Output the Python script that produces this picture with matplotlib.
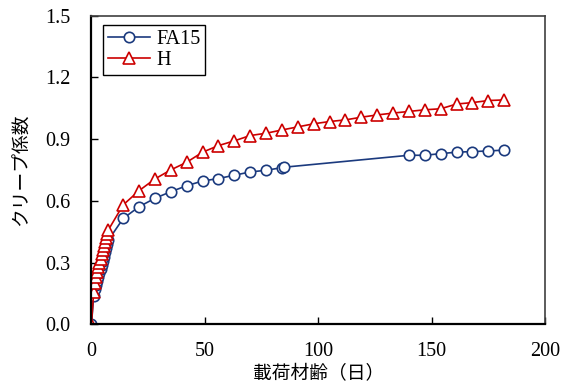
import matplotlib.pyplot as plt

# loading age (days) and creep coefficient
fa15_days = [0, 1, 1.5, 2, 2.5, 3, 3.5, 4, 4.5, 5, 5.5, 6, 6.5, 7, 7.5,
             14, 21, 28, 35, 42, 49, 56, 63, 70, 77, 84, 85,
             140, 147, 154, 161, 168, 175, 182]
fa15_cc = [0.0, 0.14, 0.17, 0.19, 0.21, 0.23, 0.25, 0.27, 0.29, 0.31, 0.33, 0.35, 0.37, 0.39, 0.41,
           0.515, 0.572, 0.613, 0.645, 0.674, 0.697, 0.709, 0.725, 0.741, 0.749, 0.762, 0.764,
           0.822, 0.822, 0.830, 0.837, 0.840, 0.843, 0.847]

h_days = [0, 1, 1.5, 2, 2.5, 3, 3.5, 4, 4.5, 5, 5.5, 6, 6.5, 7, 7.5,
          14, 21, 28, 35, 42, 49, 56, 63, 70, 77, 84, 91, 98, 105, 112, 119, 126,
          133, 140, 147, 154, 161, 168, 175, 182]
h_cc = [0.0, 0.16, 0.20, 0.23, 0.255, 0.28, 0.30, 0.32, 0.34, 0.36, 0.38, 0.40, 0.42, 0.44, 0.46,
        0.581, 0.650, 0.707, 0.751, 0.788, 0.837, 0.869, 0.892, 0.918, 0.929, 0.945, 0.960, 0.975,
        0.986, 0.994, 1.007, 1.018, 1.027, 1.035, 1.043, 1.048, 1.071, 1.078, 1.088, 1.091]

xticks = [0, 50, 100, 150, 200]
yticks = [0.0, 0.3, 0.6, 0.9, 1.2, 1.5]

jp = ['Noto Sans CJK JP', 'DejaVu Sans']
num_font = 'Liberation Serif'

fig = plt.figure(figsize=(5.61, 3.89), dpi=100)
ax = fig.add_axes([0.163, 0.166, 0.8085, 0.7935])

ax.plot(fa15_days, fa15_cc, color='#1b3a7e', lw=1.2, marker='o', ms=7.5,
        mfc='white', mec='#1b3a7e', mew=1.2, label='FA15')
ax.plot(h_days, h_cc, color='#cc0000', lw=1.2, marker='^', ms=8,
        mfc='white', mec='#cc0000', mew=1.2, label='H')

ax.set_xlim(0, 200)
ax.set_ylim(0, 1.5)
ax.set_xticks(xticks)
ax.set_yticks(yticks)
ax.set_xticklabels([str(t) for t in xticks], fontfamily=num_font, fontsize=14.5)
ax.set_yticklabels([f'{t:.1f}' for t in yticks], fontfamily=num_font, fontsize=14.5)
ax.tick_params(direction='in', length=5, width=1, top=False, right=False)
ax.tick_params(axis='y', pad=15)
ax.tick_params(axis='x', pad=13)

for s in ['left', 'bottom']:
    ax.spines[s].set_linewidth(1.6)
    ax.spines[s].set_color('black')
for s in ['top', 'right']:
    ax.spines[s].set_linewidth(1.2)
    ax.spines[s].set_color('#404040')

ax.set_xlabel('載荷材齢（日）', family=jp, fontsize=13.5, labelpad=1)
ax.set_ylabel('クリープ係数', family=jp, fontsize=13.5, labelpad=10)

leg = ax.legend(loc='upper left', bbox_to_anchor=(0.025, 0.97), borderaxespad=0,
                fancybox=False, edgecolor='black', framealpha=1, handlelength=2.1,
                prop={'family': num_font, 'size': 14.5}, borderpad=0.25,
                labelspacing=0.1, handletextpad=0.3)
leg.get_frame().set_linewidth(1.0)

fig.savefig('out.png', dpi=100)
